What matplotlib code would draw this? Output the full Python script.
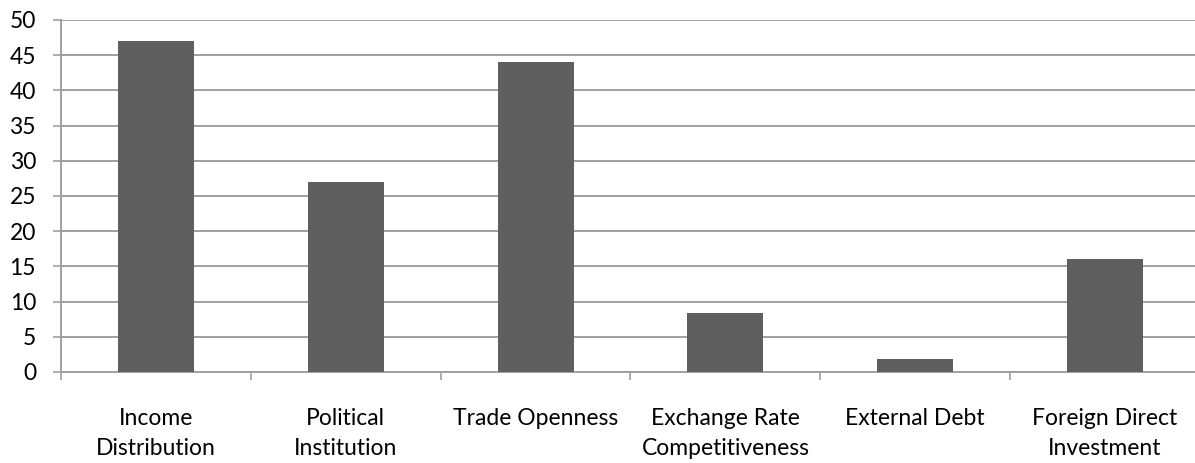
import matplotlib
matplotlib.use("Agg")
import matplotlib.pyplot as plt
import numpy as np

categories = ["Income\nDistribution", "Political\nInstitution", "Trade Openness",
              "Exchange Rate\nCompetitiveness", "External Debt", "Foreign Direct\nInvestment"]
values = [47, 27, 44, 8.4, 1.9, 16.1]
yticks = [0, 5, 10, 15, 20, 25, 30, 35, 40, 45, 50]

plt.rcParams['font.family'] = ['Lato', 'DejaVu Sans']

fig = plt.figure(figsize=(11.95, 4.63), dpi=100)
W, H = 1195, 463
ax = fig.add_axes([61 / W, (H - 372) / H, (1200 - 61) / W, (372 - 20) / H])

x = np.arange(len(categories))
ax.bar(x, values, width=0.4, color="#5f5f5f", zorder=3)

ax.set_xlim(-0.5, len(categories) - 0.5)
ax.set_ylim(0, 50)
ax.set_yticks(yticks)
ax.set_yticklabels([str(v) for v in yticks])
ax.yaxis.grid(True, color="#a0a0a0", linewidth=1.4, zorder=0)
ax.set_axisbelow(True)

ax.set_xticks(np.arange(-0.5, len(categories) + 0.5, 1.0))
ax.set_xticklabels([])
ax.set_xticks(x, minor=True)
ax.set_xticklabels(categories, minor=True, fontsize=16.5, linespacing=1.5)
ax.tick_params(axis='x', which='minor', length=0, pad=26)
ax.tick_params(axis='x', which='major', length=6, width=1.2, color="#a0a0a0", direction='out')
ax.tick_params(axis='y', length=6, width=1.2, color="#a0a0a0", labelsize=16.5, pad=12)

for s in ['top', 'right']:
    ax.spines[s].set_visible(False)
for s in ['left', 'bottom']:
    ax.spines[s].set_color("#a0a0a0")
    ax.spines[s].set_linewidth(1.4)

fig.savefig("out.png", dpi=100)
